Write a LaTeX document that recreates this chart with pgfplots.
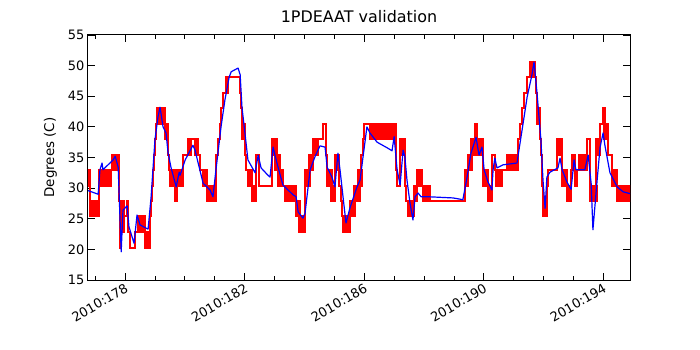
\documentclass[border=0pt]{standalone}
\usepackage{fontspec}
\setmainfont{DejaVu Sans}
\usepackage{pgfplots}
\pgfplotsset{compat=1.18}
\newcommand\blk[4]{\addplot[draw=red, fill=red, line width=2bp, forget plot] coordinates {(#1,#3) (#2,#3) (#2,#4) (#1,#4)} -- cycle;}
\begin{document}
\begin{tikzpicture}
\path[use as bounding box] (-88bp,-70bp) rectangle (612bp,280bp);
\begin{axis}[
  at={(0,0)}, anchor=south west,
  scale only axis, width=542bp, height=245bp,
  xmin=176.76, xmax=194.89, ymin=15, ymax=55,
  xtick={178,182,186,190,194},
  xticklabels={2010:178,2010:182,2010:186,2010:190,2010:194},
  minor xtick={177,179,180,181,183,184,185,187,188,189,191,192,193},
  ytick={15,20,...,55},
  tick align=inside,
  major tick length=7bp, minor tick length=4bp,
  every tick/.style={black, line width=0.8bp},
  axis line style={black, line width=1bp},
  /pgf/number format/assume math mode=true,
  tick label style={font=\fontsize{13}{15}\selectfont},
  xticklabel style={rotate=30, anchor=north east, inner sep=2bp},
  label style={font=\fontsize{13.5}{16}\selectfont},
  ylabel={Degrees (C)},
  ylabel style={at={(axis description cs:-0.0627,0.5)}, anchor=base},
  title={1PDEAAT validation},
  title style={font=\fontsize{16}{19}\selectfont, at={(axis description cs:0.5,1)}, anchor=base, yshift=6.5bp},
]
% quantised (red) blocks where the signal toggles between two levels
\blk{176.76}{176.83}{30.4}{32.9}
\blk{176.83}{177.13}{25.4}{27.9}
\blk{177.13}{177.53}{30.4}{32.9}
\blk{177.57}{177.80}{32.9}{35.4}
\blk{177.87}{177.97}{22.8}{27.9}
\blk{178.43}{178.67}{22.8}{25.4}
\blk{178.67}{178.84}{20.3}{22.8}
\blk{179.07}{179.34}{40.5}{43.0}
\blk{179.34}{179.44}{38.0}{40.5}
\blk{179.51}{179.67}{30.4}{32.9}
\blk{179.67}{179.74}{27.9}{30.4}
\blk{179.74}{179.94}{30.4}{32.9}
\blk{180.11}{180.21}{35.4}{38.0}
\blk{180.34}{180.44}{35.4}{38.0}
\blk{180.61}{180.74}{30.4}{32.9}
\blk{180.74}{181.04}{27.9}{30.4}
\blk{181.38}{181.45}{45.6}{48.1}
\blk{181.91}{182.01}{38.0}{40.5}
\blk{182.11}{182.25}{30.4}{32.9}
\blk{182.25}{182.38}{27.9}{30.4}
\blk{182.92}{183.08}{35.4}{38.0}
\blk{183.02}{183.18}{32.9}{35.4}
\blk{183.12}{183.28}{30.4}{32.9}
\blk{183.35}{183.72}{27.9}{30.4}
\blk{183.72}{183.85}{25.4}{27.9}
\blk{183.82}{184.02}{22.8}{25.4}
\blk{184.02}{184.19}{30.4}{32.9}
\blk{184.15}{184.29}{32.9}{35.4}
\blk{184.29}{184.46}{35.4}{38.0}
\blk{184.76}{184.92}{30.4}{32.9}
\blk{184.89}{185.02}{27.9}{30.4}
\blk{185.06}{185.16}{32.9}{35.4}
\blk{185.29}{185.53}{22.8}{25.4}
\blk{185.53}{185.69}{25.4}{27.9}
\blk{185.66}{185.86}{27.9}{30.4}
\blk{185.79}{185.93}{30.4}{32.9}
\blk{186.19}{186.93}{38.0}{40.5}
\blk{186.96}{187.06}{38.0}{40.5}
\blk{187.23}{187.36}{35.4}{38.0}
\blk{187.47}{187.67}{25.4}{27.9}
\blk{187.67}{187.77}{27.9}{30.4}
\blk{187.77}{187.93}{30.4}{32.9}
\blk{187.97}{188.20}{27.9}{30.4}
\blk{189.37}{189.47}{30.4}{32.9}
\blk{189.47}{189.61}{32.9}{35.4}
\blk{189.57}{189.97}{35.4}{38.0}
\blk{189.97}{190.14}{30.4}{32.9}
\blk{190.14}{190.27}{27.9}{30.4}
\blk{190.41}{190.61}{30.4}{32.9}
\blk{190.78}{191.14}{32.9}{35.4}
\blk{191.55}{191.71}{48.1}{50.6}
\blk{191.78}{191.88}{40.5}{43.0}
\blk{191.98}{192.11}{25.4}{27.9}
\blk{192.45}{192.62}{35.4}{38.0}
\blk{192.62}{192.78}{30.4}{32.9}
\blk{192.78}{192.92}{27.9}{30.4}
\blk{192.95}{193.05}{32.9}{35.4}
\blk{193.25}{193.45}{32.9}{35.4}
\blk{193.65}{193.79}{27.9}{30.4}
\blk{193.75}{193.89}{35.4}{38.0}
\blk{194.02}{194.15}{38.0}{40.5}
\blk{194.29}{194.46}{30.4}{32.9}
\blk{194.46}{194.89}{27.9}{30.4}
% quantised (red) telemetry
\addplot[red, line width=2bp, const plot mark left, no markers] coordinates {
(176.76,30.4)(176.83,25.4)(177.13,30.4)(177.53,32.9)(177.57,35.4)(177.80,27.9)(177.83,20.3)(177.87,22.8)(177.97,25.4)(178.07,27.9)(178.10,22.8)(178.17,20.3)(178.33,22.8)(178.67,20.3)(178.84,25.4)(178.87,27.9)(178.90,30.4)(178.94,32.9)(178.97,35.4)(179.00,38.0)(179.04,40.5)(179.07,43.0)(179.34,40.5)(179.44,35.4)(179.47,32.9)(179.51,30.4)(179.67,27.9)(179.74,32.9)(179.94,35.4)(180.11,38.0)(180.44,35.4)(180.51,32.9)(180.61,30.4)(180.74,27.9)(181.04,35.4)(181.11,38.0)(181.18,40.5)(181.21,43.0)(181.28,45.6)(181.38,48.1)(181.85,45.6)(181.88,43.0)(181.91,40.5)(182.01,35.4)(182.05,32.9)(182.11,30.4)(182.25,27.9)(182.38,35.4)(182.48,30.4)(182.92,38.0)(183.08,35.4)(183.18,32.9)(183.28,30.4)(183.35,27.9)(183.72,25.4)(183.85,22.8)(184.02,30.4)(184.15,35.4)(184.29,38.0)(184.62,40.5)(184.72,35.4)(184.76,30.4)(184.89,27.9)(185.02,35.4)(185.16,30.4)(185.22,27.9)(185.26,25.4)(185.29,22.8)(185.53,25.4)(185.66,27.9)(185.83,30.4)(185.89,35.4)(185.96,38.0)(185.99,40.5)(187.06,32.9)(187.10,30.4)(187.20,38.0)(187.36,30.4)(187.40,27.9)(187.47,25.4)(187.67,27.9)(187.77,32.9)(187.93,30.4)(188.20,27.9)(189.37,30.4)(189.40,32.9)(189.47,35.4)(189.57,38.0)(189.71,40.5)(189.77,38.0)(189.97,32.9)(190.14,27.9)(190.27,35.4)(190.37,32.9)(190.78,35.4)(191.14,38.0)(191.21,40.5)(191.28,43.0)(191.34,45.6)(191.45,48.1)(191.55,50.6)(191.71,48.1)(191.75,45.6)(191.78,43.0)(191.88,38.0)(191.91,35.4)(191.95,30.4)(191.98,25.4)(192.11,30.4)(192.15,32.9)(192.45,38.0)(192.62,32.9)(192.78,27.9)(192.92,32.9)(192.95,35.4)(193.05,30.4)(193.12,32.9)(193.18,35.4)(193.45,38.0)(193.55,27.9)(193.65,30.4)(193.75,35.4)(193.89,40.5)(193.99,43.0)(194.05,40.5)(194.15,35.4)(194.29,32.9)(194.46,27.9)(194.89,27.9)
};
% model (blue)
\addplot[blue, line width=1.2bp, line join=round, no markers] coordinates {
(176.76,29.6)(177.10,29.0)(177.16,33.0)(177.23,34.1)(177.26,33.0)(177.60,34.6)(177.67,35.2)(177.77,33.4)(177.87,19.6)(177.93,26.4)(178.07,27.1)(178.13,23.7)(178.30,21.0)(178.40,25.6)(178.50,24.0)(178.77,23.3)(178.87,28.5)(179.00,37.9)(179.10,41.6)(179.17,43.2)(179.27,40.0)(179.37,39.0)(179.44,35.7)(179.54,33.3)(179.71,30.2)(179.81,32.6)(179.84,32.1)(180.01,34.6)(180.27,37.0)(180.34,36.2)(180.61,30.8)(180.84,29.7)(180.94,28.6)(181.04,33.0)(181.21,40.0)(181.34,44.4)(181.48,48.1)(181.55,49.0)(181.78,49.6)(181.85,48.5)(181.91,43.2)(182.01,39.0)(182.11,34.6)(182.35,32.5)(182.45,35.4)(182.55,33.3)(182.78,32.1)(182.85,31.8)(182.95,36.7)(183.08,34.1)(183.28,30.5)(183.62,28.9)(183.72,28.6)(183.79,26.1)(183.95,25.1)(184.02,25.9)(184.19,33.0)(184.35,35.1)(184.52,36.9)(184.69,36.7)(184.76,33.4)(184.92,31.8)(185.02,30.2)(185.12,35.7)(185.19,33.0)(185.29,28.6)(185.39,24.3)(185.53,26.9)(185.76,30.2)(185.86,31.3)(185.96,35.1)(186.09,40.0)(186.19,39.0)(186.43,37.5)(186.76,36.6)(186.93,36.1)(187.00,38.4)(187.10,33.0)(187.20,30.5)(187.30,36.2)(187.36,35.1)(187.43,31.3)(187.53,27.6)(187.63,24.8)(187.70,28.6)(187.80,29.2)(187.90,28.6)(188.10,28.6)(188.97,28.4)(189.20,28.2)(189.30,28.1)(189.44,31.8)(189.57,35.7)(189.74,38.3)(189.84,35.4)(189.94,36.7)(190.01,33.0)(190.14,31.0)(190.27,29.7)(190.31,33.0)(190.37,34.9)(190.44,33.3)(190.64,33.8)(191.11,34.1)(191.14,35.1)(191.28,39.5)(191.45,44.9)(191.61,48.5)(191.68,50.6)(191.78,45.5)(191.91,37.9)(191.98,31.3)(192.05,26.7)(192.11,31.8)(192.21,32.6)(192.48,33.3)(192.55,34.9)(192.62,33.0)(192.78,31.0)(192.92,29.8)(193.02,34.6)(193.08,33.0)(193.38,33.0)(193.49,35.4)(193.59,30.8)(193.65,23.2)(193.79,31.3)(193.89,36.7)(193.99,39.0)(194.05,37.0)(194.22,32.5)(194.46,30.2)(194.66,29.4)(194.89,29.1)
};
\end{axis}
\end{tikzpicture}
\end{document}
